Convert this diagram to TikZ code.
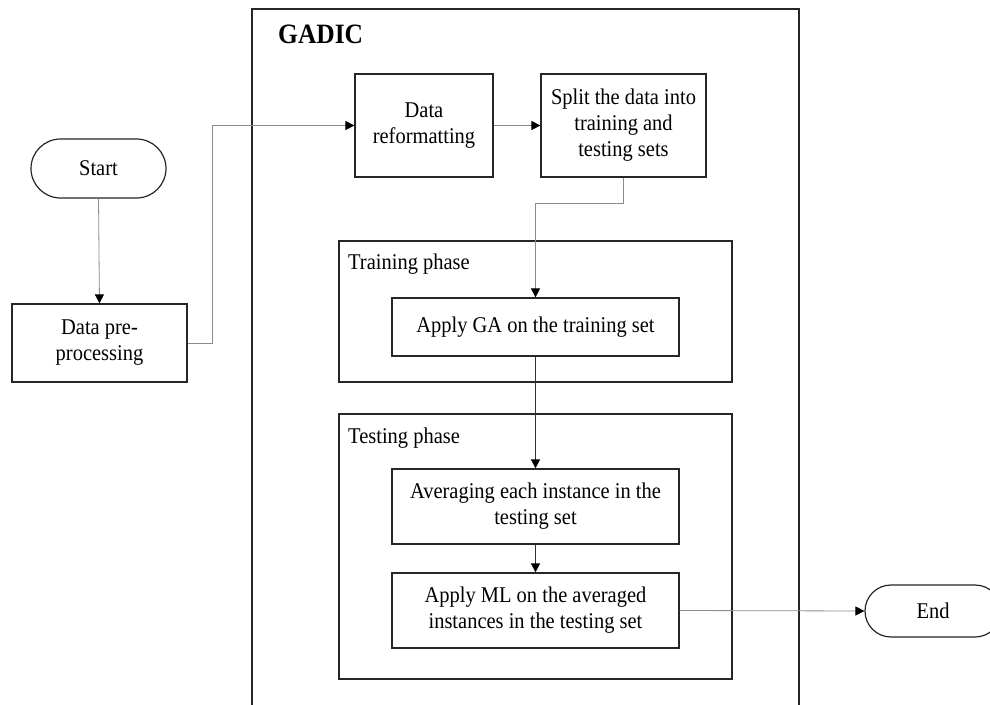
\documentclass[tikz,border=0pt]{standalone}
\usepackage{fontspec}
\setmainfont{Liberation Serif}[FakeStretch=0.91]
\usetikzlibrary{arrows.meta,shapes.misc}
\tikzset{
  txt/.style={font=\fontsize{22.5}{26}\selectfont},
  box/.style={draw=black!85, line width=1.2pt, fill=white, align=center, inner sep=2pt, txt},
  term/.style={box, rounded rectangle},
  frame/.style={draw=black!85, line width=1.2pt},
  conn/.style={draw=black!45, line width=0.8pt, -{Triangle[length=9pt,width=9pt,color=black]}},
  conndark/.style={draw=black!80, line width=0.7pt, -{Triangle[length=9pt,width=9pt,color=black]}},
  title/.style={anchor=base west, inner sep=0pt, txt},
}
\begin{document}
\begin{tikzpicture}[x=1pt,y=-1pt]
\clip (0,0) rectangle (990,704);
\fill[white] (0,0) rectangle (990,704);
% containers
\node[frame, minimum width=547pt, minimum height=720pt, inner sep=0pt] (gadic) at (525.5,369) {};
\node[frame, minimum width=393pt, minimum height=141pt, inner sep=0pt] (train) at (535.5,311.5) {};
\node[frame, minimum width=393pt, minimum height=265pt, inner sep=0pt] (test) at (535.5,546.5) {};
\node[anchor=base west, inner sep=0pt, font=\fontsize{28}{32}\selectfont\bfseries] (gadiclbl) at (278,43) {GADIC};
\node[title] (trainlbl) at (348,269) {Training phase};
\node[title] (testlbl) at (348,443) {Testing phase};
% nodes
\node[term, minimum width=139pt, minimum height=59pt] (start) at (98.5,168.5) {Start};
\node[box, minimum width=175pt, minimum height=78pt] (dp) at (99.5,343) {Data pre-\\processing};
\node[box, minimum width=138pt, minimum height=103pt] (reform) at (424,125.5) {Data\\reformatting};
\node[box, minimum width=165pt, minimum height=103pt] (split) at (623.5,125.5) {Split the data into\\training and\\testing sets};
\node[box, minimum width=287pt, minimum height=58pt] (ga) at (535.5,327) {Apply GA on the training set};
\node[box, minimum width=287pt, minimum height=75pt] (avg) at (535.5,506.5) {Averaging each instance in the\\testing set};
\node[box, minimum width=287pt, minimum height=75pt] (ml) at (535.5,610.5) {Apply ML on the averaged\\instances in the testing set};
\node[term, minimum width=140pt, minimum height=52pt] (end) at (933,611) {End};
% connectors
\draw[conn] (start.south) -- (dp.north);
\draw[conn] (dp.east) -- (212,343) -- (212,125.5) -- (reform.west);
\draw[conn] (reform.east) -- (split.west);
\draw[conn] (split.south) -- (623.5,203) -- (535.5,203) -- (ga.north);
\draw[conndark] (ga.south) -- (avg.north);
\draw[conndark] (avg.south) -- (ml.north);
\draw[conn] (ml.east) -- (end.west);
\end{tikzpicture}
\end{document}
